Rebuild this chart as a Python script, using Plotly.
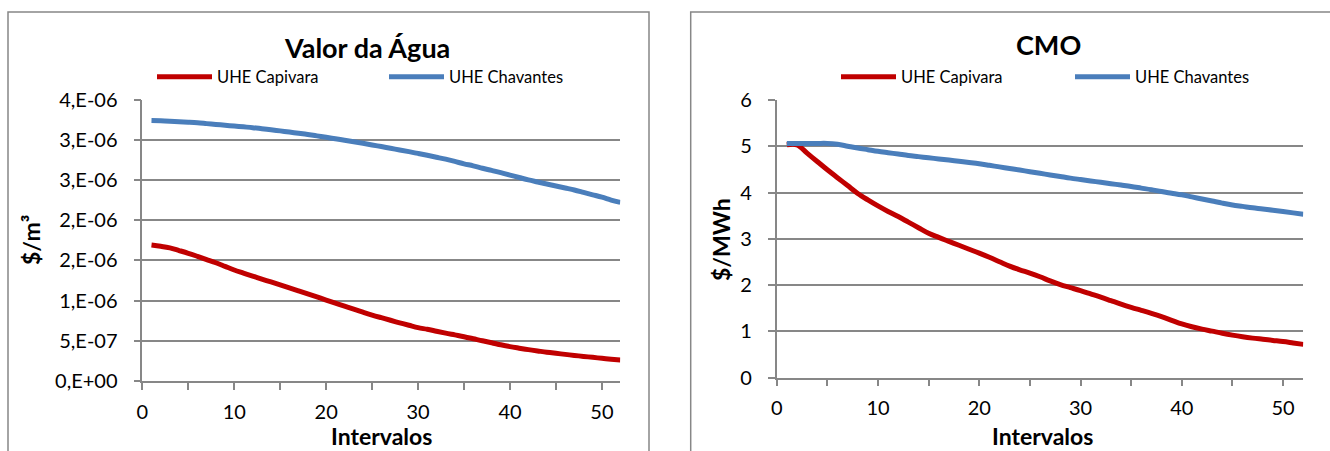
import plotly.graph_objects as go

# ---------------- data ----------------
intervalos = list(range(1, 53))

agua_capivara = [1.690, 1.675, 1.655, 1.622, 1.588, 1.550, 1.510, 1.470, 1.425, 1.380,
                 1.342, 1.305, 1.268, 1.231, 1.194, 1.157, 1.120, 1.082, 1.045, 1.007,
                 0.968, 0.930, 0.893, 0.856, 0.820, 0.787, 0.755, 0.723, 0.693, 0.663,
                 0.643, 0.619, 0.595, 0.573, 0.551, 0.526, 0.500, 0.476, 0.450, 0.427,
                 0.408, 0.390, 0.374, 0.358, 0.344, 0.331, 0.318, 0.306, 0.294, 0.282,
                 0.271, 0.261]
agua_capivara = [v * 1e-6 for v in agua_capivara]

agua_chavantes = [3.238, 3.235, 3.230, 3.223, 3.217, 3.210, 3.200, 3.190, 3.180, 3.170,
                  3.160, 3.150, 3.137, 3.124, 3.110, 3.095, 3.080, 3.065, 3.048, 3.030,
                  3.012, 2.993, 2.974, 2.955, 2.935, 2.915, 2.894, 2.873, 2.852, 2.830,
                  2.806, 2.782, 2.758, 2.730, 2.700, 2.675, 2.645, 2.618, 2.590, 2.560,
                  2.530, 2.500, 2.475, 2.450, 2.425, 2.400, 2.375, 2.345, 2.315, 2.285,
                  2.250, 2.220]
agua_chavantes = [v * 1e-6 for v in agua_chavantes]

cmo_capivara = [5.03, 5.03, 4.85, 4.67, 4.49, 4.32, 4.15, 3.98, 3.84, 3.71,
                3.59, 3.48, 3.36, 3.24, 3.12, 3.03, 2.945, 2.86, 2.775, 2.69,
                2.60, 2.505, 2.41, 2.33, 2.26, 2.18, 2.09, 2.01, 1.945, 1.88,
                1.81, 1.74, 1.665, 1.59, 1.52, 1.455, 1.39, 1.32, 1.24, 1.16,
                1.10, 1.05, 1.005, 0.96, 0.92, 0.885, 0.855, 0.83, 0.805, 0.78,
                0.75, 0.72]

cmo_chavantes = [5.06, 5.06, 5.06, 5.06, 5.06, 5.04, 5.00, 4.96, 4.925, 4.89,
                 4.86, 4.83, 4.80, 4.775, 4.75, 4.725, 4.70, 4.675, 4.648, 4.62,
                 4.587, 4.553, 4.52, 4.485, 4.45, 4.415, 4.38, 4.345, 4.31, 4.28,
                 4.25, 4.22, 4.19, 4.16, 4.13, 4.095, 4.06, 4.02, 3.985, 3.95,
                 3.905, 3.86, 3.815, 3.77, 3.73, 3.70, 3.67, 3.645, 3.617, 3.59,
                 3.56, 3.53]

agua_tickvals = [0, 0.5e-6, 1.0e-6, 1.5e-6, 2.0e-6, 2.5e-6, 3.0e-6, 3.5e-6]
agua_ticktext = ["0,E+00", "5,E-07", "1,E-06", "2,E-06", "2,E-06", "3,E-06", "3,E-06", "4,E-06"]
cmo_tickvals = [0, 1, 2, 3, 4, 5, 6]

serie_nomes = ["UHE Capivara", "UHE Chavantes"]
titulos = ["Valor da Água", "CMO"]
ytitulos = ["$/m³", "$/MWh"]
xtitulo = "Intervalos"

# ---------------- style ----------------
W, H = 1330, 451
RED = "#C00000"
BLUE = "#4A7EBB"
GRAY = "#878787"
FONT = "Lato"

def px(x):
    return x / W

def py(y):
    return 1 - y / H

fig = go.Figure()

fig.add_trace(go.Scatter(x=intervalos, y=agua_capivara, mode="lines", name=serie_nomes[0],
                         line=dict(color=RED, width=5, shape="spline"), xaxis="x", yaxis="y",
                         legend="legend"))
fig.add_trace(go.Scatter(x=intervalos, y=agua_chavantes, mode="lines", name=serie_nomes[1],
                         line=dict(color=BLUE, width=5, shape="spline"), xaxis="x", yaxis="y",
                         legend="legend"))
fig.add_trace(go.Scatter(x=intervalos, y=cmo_capivara, mode="lines", name=serie_nomes[0],
                         line=dict(color=RED, width=5, shape="spline"), xaxis="x2", yaxis="y2",
                         legend="legend2"))
fig.add_trace(go.Scatter(x=intervalos, y=cmo_chavantes, mode="lines", name=serie_nomes[1],
                         line=dict(color=BLUE, width=5, shape="spline"), xaxis="x2", yaxis="y2",
                         legend="legend2"))

xcommon = dict(range=[0, 52], dtick=10, tick0=0, showline=True, linecolor=GRAY, linewidth=1.5,
               ticks="outside", ticklen=7, tickcolor=GRAY, tickwidth=1.5, showgrid=False,
               zeroline=False, tickfont=dict(family=FONT, size=20, color="black"),
               minor=dict(dtick=5, tick0=0, ticks="outside", ticklen=7, tickcolor=GRAY, tickwidth=1.5),
               ticklabelstandoff=5, fixedrange=True, automargin=False)
ycommon = dict(showline=True, linecolor=GRAY, linewidth=1.5, ticks="outside", ticklen=7,
               tickcolor=GRAY, tickwidth=1.5, showgrid=True, gridcolor=GRAY, gridwidth=1.5,
               zeroline=False, tickfont=dict(family=FONT, size=20, color="black"),
               ticklabelstandoff=12, fixedrange=True, automargin=False)

fig.update_layout(
    width=W, height=H, margin=dict(l=0, r=0, t=0, b=0, pad=0, autoexpand=False),
    paper_bgcolor="white", plot_bgcolor="white",
    font=dict(family=FONT, color="black"),
    xaxis=dict(domain=[px(142.3), px(620.3)], anchor="y", **xcommon),
    yaxis=dict(domain=[py(381), py(99.5)], anchor="x", range=[0, 3.5e-6],
               tickvals=agua_tickvals, ticktext=agua_ticktext, **ycommon),
    xaxis2=dict(domain=[px(776.7), px(1303.3)], anchor="y2", **xcommon),
    yaxis2=dict(domain=[py(377.7), py(99.9)], anchor="x2", range=[0, 6],
                tickvals=cmo_tickvals, **ycommon),
    legend=dict(orientation="h", x=px(152), y=py(77), xanchor="left", yanchor="middle",
                entrywidth=162, font=dict(family=FONT, size=16.5, color="black"),
                bgcolor="rgba(0,0,0,0)", itemwidth=55),
    legend2=dict(orientation="h", x=px(836), y=py(77), xanchor="left", yanchor="middle",
                 entrywidth=164, font=dict(family=FONT, size=16.5, color="black"),
                 bgcolor="rgba(0,0,0,0)", itemwidth=55),
    showlegend=True,
)

# chart frames
fig.add_shape(type="rect", xref="paper", yref="paper", x0=px(8), x1=px(649), y0=-0.2, y1=py(12),
              line=dict(color=GRAY, width=1.5), layer="below")
fig.add_shape(type="rect", xref="paper", yref="paper", x0=px(690.7), x1=1.2, y0=-0.2, y1=py(12),
              line=dict(color=GRAY, width=1.5), layer="below")

# titles
fig.add_annotation(text="<b>%s</b>" % titulos[0], xref="paper", yref="paper", x=px(367), y=py(47),
                   showarrow=False, font=dict(family=FONT, size=27, color="black"),
                   xanchor="center", yanchor="middle")
fig.add_annotation(text="<b>%s</b>" % titulos[1], xref="paper", yref="paper", x=px(1048), y=py(45),
                   showarrow=False, font=dict(family=FONT, size=27, color="black"),
                   xanchor="center", yanchor="middle")
# axis titles
for xc, txt in [(382, xtitulo), (1042, xtitulo)]:
    fig.add_annotation(text="<b>%s</b>" % txt, xref="paper", yref="paper", x=px(xc), y=py(436),
                       showarrow=False, font=dict(family=FONT, size=23, color="black"),
                       xanchor="center", yanchor="middle")
for xc, txt in [(31, ytitulos[0]), (721, ytitulos[1])]:
    fig.add_annotation(text="<b>%s</b>" % txt, xref="paper", yref="paper", x=px(xc), y=py(240),
                       showarrow=False, font=dict(family=FONT, size=23, color="black"),
                       xanchor="center", yanchor="middle", textangle=-90)

fig.write_html("out.html")
